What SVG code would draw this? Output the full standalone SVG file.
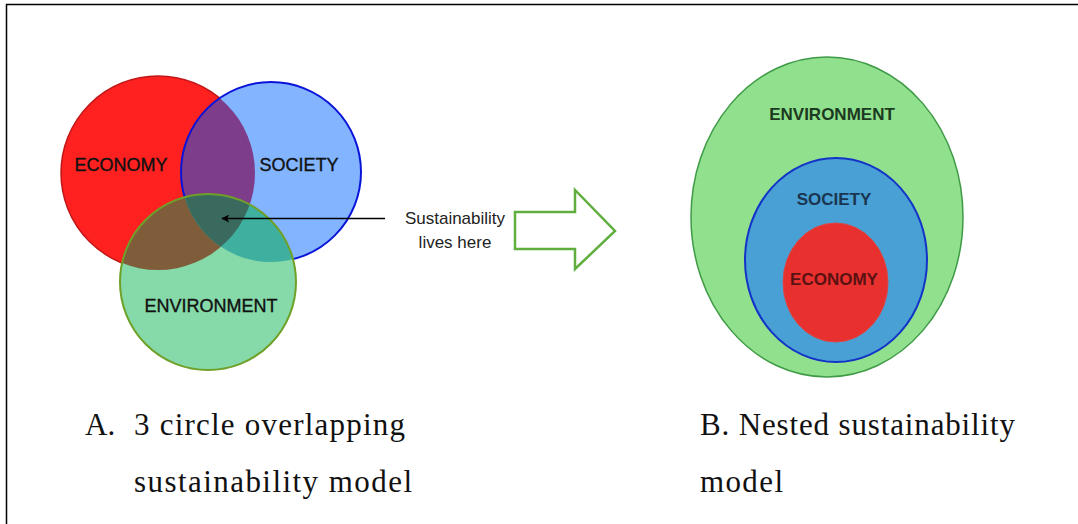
<svg xmlns="http://www.w3.org/2000/svg" width="1078" height="524" viewBox="0 0 1078 524">
  <style>
    .lbl { font-family: "Liberation Sans", Arial, sans-serif; font-size: 18px; text-anchor: middle; }
    .venn-lbl { fill: #111; stroke: #111; stroke-width: 0.35; }
    .nest-lbl { font-weight: bold; font-size: 17px; }
    .caption { font-family: "Liberation Serif", "Times New Roman", serif; font-size: 31px; fill: #111; }
    .note { font-family: "Liberation Sans", Arial, sans-serif; font-size: 17px; fill: #222; text-anchor: middle; }
  </style>
  <defs>
    <clipPath id="clip-econ"><circle cx="158" cy="173" r="97"/></clipPath>
    <clipPath id="clip-soc"><circle cx="271" cy="172" r="90"/></clipPath>
    <marker id="arrowhead" viewBox="0 0 10 10" refX="9" refY="5" markerWidth="9" markerHeight="8" orient="auto-start-reverse" markerUnits="userSpaceOnUse">
      <path d="M0,0 L10,5 L0,10 L2.5,5 Z" fill="#000"/>
    </marker>
  </defs>

  <rect width="1078" height="524" fill="#ffffff"/>
  <!-- page frame -->
  <rect x="6.5" y="4.5" width="1090" height="540" fill="none" stroke="#000" stroke-width="1.5"/>

  <!-- three overlapping circles -->
  <g id="venn-economy">
    <circle cx="158" cy="173" r="97" fill="#ff2020" stroke="#c01818" stroke-width="1.5"/>
  </g>
  <g id="venn-society">
    <circle cx="271" cy="172" r="90" fill="#82b4ff"/>
    <circle cx="271" cy="172" r="90" fill="#7e3d8a" clip-path="url(#clip-econ)"/>
    <circle cx="271" cy="172" r="90" fill="none" stroke="#0a14d8" stroke-width="2"/>
  </g>
  <g id="venn-environment">
    <circle cx="208" cy="282" r="88" fill="#86d9a8"/>
    <circle cx="208" cy="282" r="88" fill="#7f5d3a" clip-path="url(#clip-econ)"/>
    <circle cx="208" cy="282" r="88" fill="#3fb0a0" clip-path="url(#clip-soc)"/>
    <g clip-path="url(#clip-soc)">
      <circle cx="208" cy="282" r="88" fill="#3a6a5e" clip-path="url(#clip-econ)"/>
    </g>
    <circle cx="208" cy="282" r="88" fill="none" stroke="#6fa028" stroke-width="2"/>
  </g>
  <g id="venn-labels">
    <text class="lbl venn-lbl" x="121" y="171">ECONOMY</text>
    <text class="lbl venn-lbl" x="299" y="171">SOCIETY</text>
    <text class="lbl venn-lbl" x="211" y="312">ENVIRONMENT</text>
  </g>

  <!-- callout -->
  <g id="callout">
    <text class="note" x="455" y="224">Sustainability</text>
    <text class="note" x="455" y="248">lives here</text>
  </g>

  <g id="connectors">
    <line x1="385" y1="218.5" x2="222" y2="218.5" stroke="#000" stroke-width="1.5" marker-end="url(#arrowhead)"/>
    <polygon points="515,212 575,212 575,190 615,231 575,269 575,249 515,249" fill="#fff" stroke="#5fae3e" stroke-width="2.5" stroke-linejoin="miter"/>
  </g>

  <!-- nested model -->
  <g id="nested-environment">
    <ellipse cx="827" cy="217" rx="136" ry="160" fill="#90e08e" stroke="#3f9a46" stroke-width="1.5"/>
    <text class="lbl nest-lbl" x="832" y="120" fill="#1c3a20">ENVIRONMENT</text>
  </g>
  <g id="nested-society">
    <ellipse cx="836" cy="260" rx="91" ry="102" fill="#48a0d4" stroke="#1434c8" stroke-width="2"/>
    <text class="lbl nest-lbl" x="834" y="205" fill="#1a3550">SOCIETY</text>
  </g>
  <g id="nested-economy">
    <ellipse cx="835.5" cy="282.5" rx="52.5" ry="59.5" fill="#e8302e" stroke="#d84848" stroke-width="1"/>
    <text class="lbl nest-lbl" x="834" y="285" fill="#5a1212">ECONOMY</text>
  </g>

  <!-- captions -->
  <g id="caption-a">
    <text class="caption" x="85" y="435">A.</text>
    <text class="caption" x="134" y="435" textLength="271" lengthAdjust="spacing">3 circle overlapping</text>
    <text class="caption" x="134" y="492" textLength="278" lengthAdjust="spacing">sustainability model</text>
  </g>
  <g id="caption-b">
    <text class="caption" x="700" y="435" textLength="315" lengthAdjust="spacing">B. Nested sustainability</text>
    <text class="caption" x="700" y="492" textLength="83" lengthAdjust="spacing">model</text>
  </g>
</svg>
